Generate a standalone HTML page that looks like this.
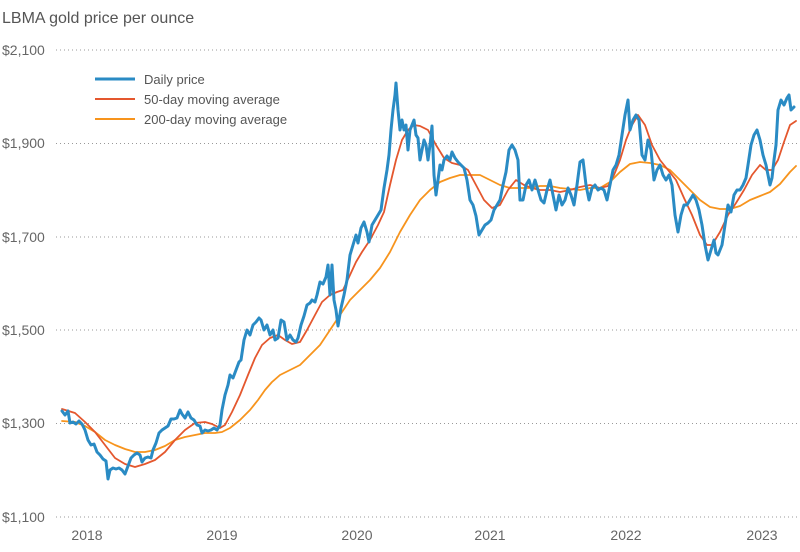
<!DOCTYPE html>
<html><head><meta charset="utf-8"><style>
html,body{margin:0;padding:0;background:#fff;}
svg{display:block;font-family:"Liberation Sans",sans-serif;}
</style></head><body>
<svg width="800" height="552" viewBox="0 0 800 552">
<text x="2" y="23" font-size="16" fill="#555">LBMA gold price per ounce</text>
<g stroke="#999" stroke-width="1" stroke-dasharray="1,3">
<line x1="56" y1="50" x2="800" y2="50"/><line x1="56" y1="143.5" x2="800" y2="143.5"/>
<line x1="56" y1="237" x2="800" y2="237"/><line x1="56" y1="330" x2="800" y2="330"/>
<line x1="56" y1="423.5" x2="800" y2="423.5"/><line x1="56" y1="517" x2="800" y2="517"/>
</g>
<g font-size="14" fill="#666">
<text x="2" y="55">$2,100</text><text x="2" y="148">$1,900</text><text x="2" y="242">$1,700</text>
<text x="2" y="335">$1,500</text><text x="2" y="428">$1,300</text><text x="2" y="522">$1,100</text>
</g>
<g font-size="14" fill="#666" text-anchor="middle">
<text x="87" y="540">2018</text><text x="222" y="540">2019</text><text x="357" y="540">2020</text>
<text x="490" y="540">2021</text><text x="626" y="540">2022</text><text x="762" y="540">2023</text>
</g>
<g fill="none" stroke-linejoin="round" stroke-linecap="round">
<polyline stroke="#f7941d" stroke-width="1.8" points="62,421 75,422 85,426 95,432 105,440 115,445 125,449 135,452 145,452 155,450 165,446 175,440 185,437 195,435 205,433 215,433 222,432 230,428 240,420 250,410 258,400 265,390 272,382 280,375 290,370 300,365 310,355 320,345 330,330 340,315 350,300 360,290 370,280 380,268 390,252 400,232 410,215 420,200 430,190 440,182 450,178 460,175 470,175 480,175 490,180 500,185 510,188 520,188 530,188 540,186 550,186 560,188 570,189 580,190 590,188 600,188 610,182 620,172 630,164 640,162 650,163 660,165 670,170 680,180 690,190 700,200 710,207 720,209 730,209 740,206 750,200 760,196 770,192 780,184 790,172 796,166"/>
<polyline stroke="#e4572e" stroke-width="1.8" points="62,409 75,413 85,422 95,432 105,445 115,458 125,464 135,467 145,464 155,460 165,452 175,440 185,430 195,423 205,422 212,424 220,428 225,425 232,412 240,395 248,375 255,358 262,345 270,338 278,335 285,340 292,344 300,342 307,330 315,315 322,302 330,295 337,292 343,290 350,275 356,262 362,252 370,240 378,225 384,212 390,185 396,160 402,140 408,130 414,125 420,126 428,130 436,145 444,158 452,163 460,165 468,170 476,185 484,200 492,208 500,205 508,190 516,180 524,185 532,188 540,190 550,190 560,192 570,190 580,187 590,185 600,188 608,186 614,175 620,160 626,140 632,125 638,115 645,125 652,145 660,160 668,170 676,180 684,198 692,215 700,235 707,245 712,245 720,232 728,215 736,203 744,190 752,175 760,165 766,170 772,170 778,160 784,142 790,125 796,121"/>
<polyline stroke="#2a8bc4" stroke-width="3" points="62,411 65,415 68,411 70,423 73,422 76,424 79,421 82,424 85,430 88,440 91,445 94,444 97,452 100,455 103,459 106,461 108,479 110,470 113,468 116,469 119,468 122,470 125,474 128,466 131,458 134,455 137,453 140,455 142,462 145,458 148,457 151,458 153,450 156,443 159,433 162,430 165,428 168,426 171,419 174,419 177,418 180,410 182,414 185,418 188,412 191,418 194,420 197,425 200,426 202,433 205,430 208,431 211,430 214,428 217,430 220,425 222,410 225,395 228,385 230,375 233,378 236,370 239,362 241,360 244,340 247,330 250,335 253,325 256,322 259,318 261,320 264,330 267,325 270,335 273,330 275,340 278,338 281,320 284,322 287,340 290,335 293,340 296,342 298,338 301,325 304,316 307,305 310,303 312,300 315,302 317,295 320,282 323,284 326,277 328,265 330,295 332,265 334,300 336,310 338,326 341,308 344,295 347,280 350,255 353,245 356,235 358,243 361,228 364,222 367,232 369,242 372,225 375,220 378,215 381,210 384,188 387,170 389,155 391,130 393,110 395,95 396,83 398,110 400,130 402,120 404,130 406,125 408,150 410,130 412,125 414,120 416,135 418,138 420,160 422,150 424,140 426,145 428,160 430,145 432,126 434,175 436,195 438,180 440,165 442,170 444,160 447,156 450,160 452,152 455,158 458,162 461,165 464,168 467,180 470,200 473,205 476,216 479,235 482,230 485,225 488,223 491,220 494,210 497,205 500,200 503,185 506,172 509,150 512,145 515,150 518,160 520,200 523,200 526,185 529,180 532,190 535,180 538,190 541,200 544,203 547,190 550,180 553,195 556,210 559,195 562,205 565,200 568,188 571,195 574,205 577,185 580,162 583,160 586,185 589,200 592,188 595,185 598,190 601,188 604,190 607,200 610,185 613,170 616,165 619,155 622,135 625,115 628,100 630,130 633,120 636,115 639,120 642,155 645,160 648,140 651,150 654,180 657,170 660,165 663,175 666,180 669,175 672,185 675,215 678,232 681,215 684,205 687,205 690,200 693,195 696,200 699,210 702,225 705,245 708,260 711,250 714,240 716,253 718,255 720,250 722,245 725,225 728,205 731,212 734,195 737,190 740,190 743,185 746,178 748,165 751,145 754,135 757,130 760,140 763,155 766,165 768,175 770,185 772,178 774,160 776,145 778,110 781,100 784,105 787,98 789,95 791,110 794,107"/>
</g>
<line x1="95" y1="79" x2="135" y2="79" stroke="#2a8bc4" stroke-width="3"/>
<line x1="95" y1="99" x2="135" y2="99" stroke="#e4572e" stroke-width="2"/>
<line x1="95" y1="119" x2="135" y2="119" stroke="#f7941d" stroke-width="2"/>
<g font-size="13" fill="#555">
<text x="144" y="84">Daily price</text>
<text x="144" y="104">50-day moving average</text>
<text x="144" y="124">200-day moving average</text>
</g>
</svg>
</body></html>
